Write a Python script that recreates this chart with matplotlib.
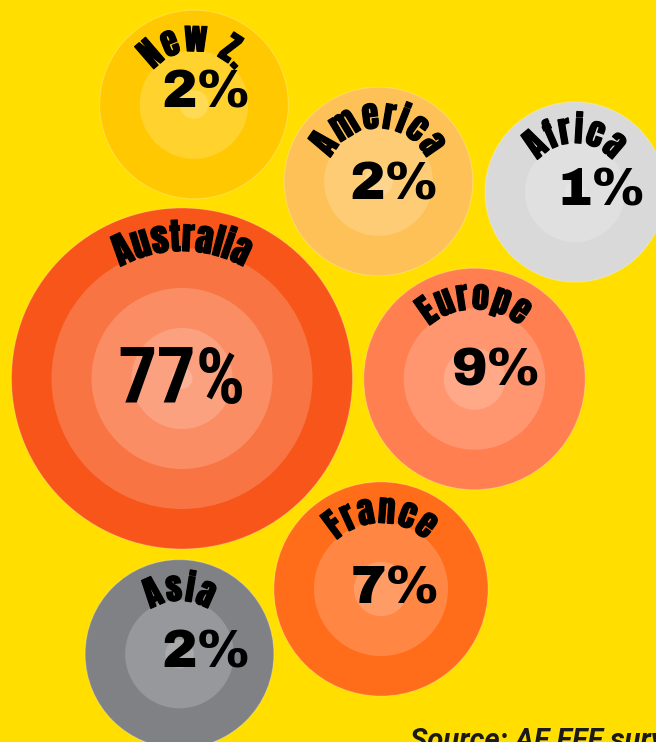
import numpy as np
import matplotlib
matplotlib.use("Agg")
import matplotlib.pyplot as plt
from matplotlib.patches import Circle
from matplotlib import font_manager
from matplotlib import patheffects
from matplotlib.font_manager import FontProperties
from matplotlib.ft2font import FT2Font
from matplotlib.colors import to_rgb

# ---------------- data ----------------
regions = ["New Z.", "America", "Africa", "Australia", "Europe", "France", "Asia"]
shares = [2, 2, 1, 77, 9, 7, 2]
source_text = "Source: AF FFF survey"

# ---------------- layout / style ----------------
W, H = 656, 742
centers_x = [194, 378.5, 575, 182, 474.5, 381, 179.5]
centers_y = [104.5, 181.5, 192, 378.5, 379, 589, 654]
pct_dx = [12.5, 16, 26.5, 0, 21.5, 14, 27]
pct_dy = [3.5, 18.5, 13, 24.5, 6, 14, 13]
colors = ["#FFC800", "#FEC157", "#D9D9D9", "#F75519", "#FF7F50", "#FF6C1A", "#808185"]
bg = "#FFDE00"


def radius(v):
    return 79.7 + 10.35 * np.sqrt(v)


names = {f.name for f in font_manager.fontManager.ttflist}


def pick(cands, weight):
    for fam, w in cands:
        if fam in names:
            return dict(family=fam, weight=w)
    return dict(family="DejaVu Sans", weight=weight)


label_base = pick([("Anton", "normal"), ("Oswald", "bold"), ("Roboto", "black")], "bold")
pct_base = pick([("Archivo Black", "normal"), ("Roboto", "black")], "bold")
big_pct_base = pick([("Roboto Condensed", "black"), ("Barlow Condensed", "black"),
                     ("Roboto", "black")], "bold")
bolden = [patheffects.withStroke(linewidth=0.9, foreground="black")]


def advances(text, fp):
    path = font_manager.findfont(fp)
    f = FT2Font(path)
    f.set_size(fp.get_size_in_points(), 100)
    return [f.load_char(ord(c)).linearHoriAdvance / 65536 for c in text]


def curved_text(ax, text, cx, cy, rb, fp, spacing):
    adv = advances(text, fp)
    total = sum(adv) + spacing * (len(text) - 1)
    s = -total / 2
    for ch, a in zip(text, adv):
        mid = s + a / 2
        phi = mid / rb
        x = cx + rb * np.sin(phi)
        y = cy - rb * np.cos(phi)
        ax.text(x, y, ch, fontproperties=fp, rotation=-np.degrees(phi),
                rotation_mode="anchor", ha="center", va="baseline", color="black",
                path_effects=bolden)
        s += a + spacing


def blend(c, k, a=0.18):
    r = np.array(to_rgb(c))
    for _ in range(k):
        r = r + a * (1 - r)
    return tuple(r)


fig = plt.figure(figsize=(W / 100, H / 100), dpi=100, facecolor=bg)
ax = fig.add_axes([0, 0, 1, 1])
ax.set_facecolor(bg)
ax.set_xlim(0, W)
ax.set_ylim(H, 0)
ax.set_aspect("equal")
ax.axis("off")

for i, (name, v) in enumerate(zip(regions, shares)):
    cx, cy = centers_x[i], centers_y[i]
    R = radius(v)
    k = 0
    r = R
    while r > 0:
        ax.add_patch(Circle((cx, cy), r, facecolor=blend(colors[i], k),
                            edgecolor=(1, 1, 1, 0.25) if k == 0 else "none",
                            linewidth=0.8))
        r -= 40
        k += 1
    big = R > 150
    if big:
        curved_text(ax, name, cx, cy, R - 43, FontProperties(size=26, **label_base), 0.0)
        pfp = FontProperties(size=56, **big_pct_base)
    else:
        curved_text(ax, name, cx, cy, R - 41, FontProperties(size=24.5, **label_base), 1.2)
        pfp = FontProperties(size=38.5, **pct_base)
    ax.text(cx + pct_dx[i], cy + pct_dy[i], f"{v}%", fontproperties=pfp,
            ha="center", va="baseline", color="black")

ax.text(410, 749, source_text, fontsize=21, fontweight="bold", style="italic",
        family="Roboto", ha="left", va="baseline", color="#1a1a1a", clip_on=False)

fig.savefig("out.png", dpi=100, facecolor=bg)
